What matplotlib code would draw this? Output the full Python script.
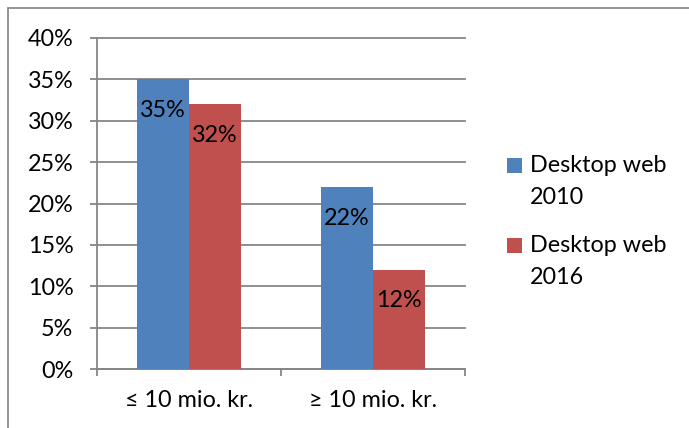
import matplotlib
matplotlib.use("Agg")
import matplotlib.pyplot as plt
from matplotlib.patches import Rectangle
from matplotlib.ticker import FuncFormatter, FixedLocator
import numpy as np

plt.rcParams['font.family'] = ['Lato', 'DejaVu Sans']

categories = ["≤ 10 mio. kr.", "≥ 10 mio. kr."]
series_names = ["Desktop web\n2010", "Desktop web\n2016"]
values_2010 = [35, 22]
values_2016 = [32, 12]
y_ticks = [0, 5, 10, 15, 20, 25, 30, 35, 40]

blue = "#4F81BD"
red = "#C0504D"
grid_gray = "#868686"
W, H = 689, 428
FS = 16.8

fig = plt.figure(figsize=(W / 100, H / 100), dpi=100)

def fx(px):
    return px / W

def fy(py):
    return 1 - py / H

# chart frame
fig.add_artist(Rectangle((fx(8), fy(440)), fx(700) - fx(8), fy(8) - fy(440),
                         transform=fig.transFigure, fill=False,
                         edgecolor="#8c8c8c", linewidth=1.3))

ax = fig.add_axes([fx(97), fy(369), fx(465) - fx(97), fy(38) - fy(369)])

x = np.arange(len(categories))
bw = 0.283
bars1 = ax.bar(x - bw / 2, values_2010, bw, color=blue, zorder=3)
bars2 = ax.bar(x + bw / 2, values_2016, bw, color=red, zorder=3)

for bars, vals in ((bars1, values_2010), (bars2, values_2016)):
    for b, v in zip(bars, vals):
        ax.annotate(f"{v}%", (b.get_x() + b.get_width() / 2, v),
                    xytext=(0, -22.5), textcoords="offset points",
                    ha="center", va="center", fontsize=FS, color="black",
                    zorder=4)

ax.set_xlim(-0.5, 1.5)
ax.set_ylim(0, 40)
ax.yaxis.set_major_locator(FixedLocator(y_ticks))
ax.yaxis.set_major_formatter(FuncFormatter(lambda v, p: f"{int(v)}%"))
ax.yaxis.grid(True, color=grid_gray, linewidth=1.3, zorder=0)
for gl in ax.get_ygridlines():
    gl.set_clip_on(False)
ax.set_axisbelow(True)

ax.set_xticks(x)
ax.set_xticklabels(categories)
ax.set_xticks([-0.5, 0.5, 1.5], minor=True)
ax.tick_params(axis="x", which="major", length=0, pad=15, labelsize=FS)
ax.tick_params(axis="x", which="minor", length=5, width=1.3, color=grid_gray,
               direction="out")
ax.tick_params(axis="y", length=5, width=1.3, color=grid_gray, direction="out",
               pad=12, labelsize=FS)

for s in ("top", "right"):
    ax.spines[s].set_visible(False)
for s in ("left", "bottom"):
    ax.spines[s].set_color(grid_gray)
    ax.spines[s].set_linewidth(1.3)

# legend
for (sq_top, txt_y1, txt_y2), name, col in zip(
        ((158, 165, 197), (238, 245, 277)), series_names, (blue, red)):
    fig.add_artist(Rectangle((fx(507), fy(sq_top + 15)), fx(15), 15 / H,
                             transform=fig.transFigure, facecolor=col,
                             edgecolor="none"))
    line1, line2 = name.split("\n")
    fig.text(fx(530), fy(txt_y1), line1, ha="left", va="center", fontsize=FS)
    fig.text(fx(530), fy(txt_y2), line2, ha="left", va="center", fontsize=FS)

fig.savefig("out.png", dpi=100)
